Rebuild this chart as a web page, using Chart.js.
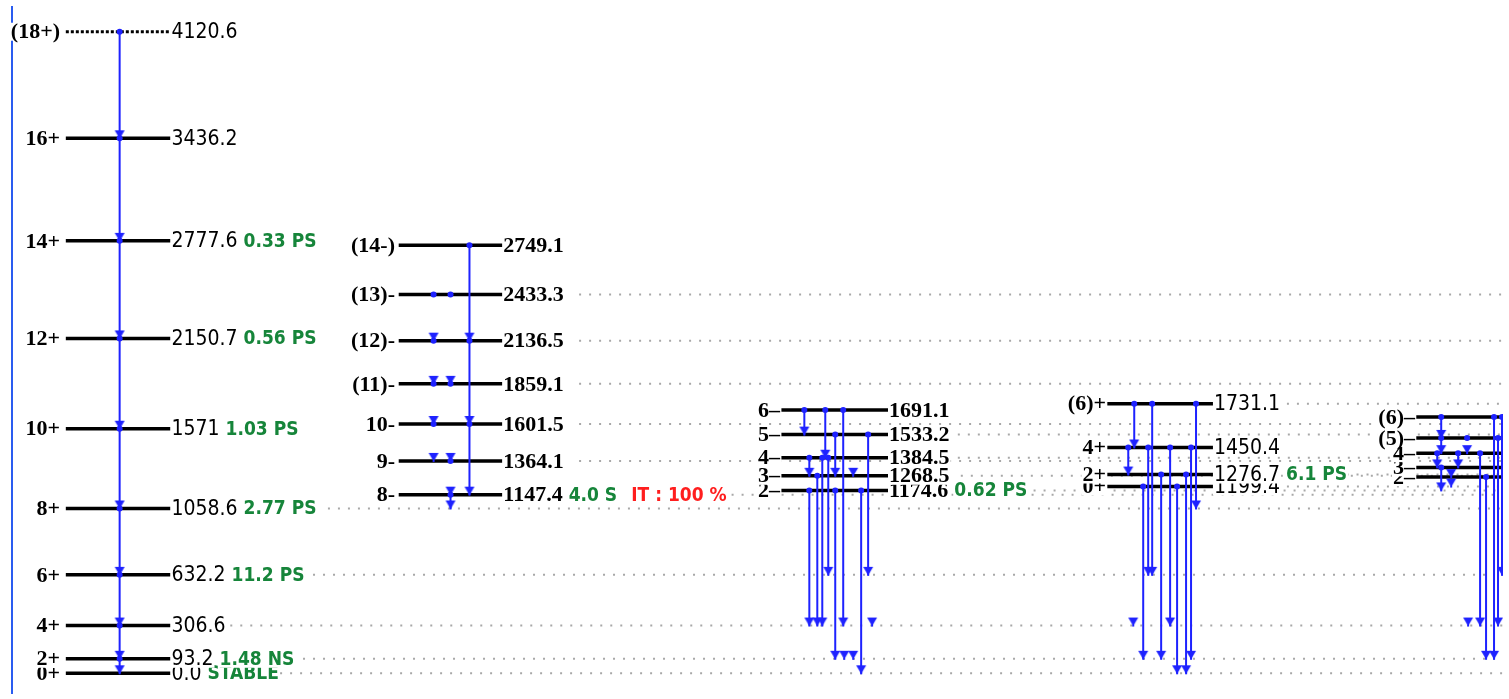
<!DOCTYPE html>
<html>
<head>
<meta charset="utf-8">
<script src="https://cdn.jsdelivr.net/npm/chart.js@4.4.1/dist/chart.umd.min.js"></script>
<style>
  html, body { margin: 0; padding: 0; background: #fff; overflow: hidden; }
  #wrap { width: 1509px; height: 699px; }
</style>
</head>
<body>
<div id="wrap"><canvas id="c"></canvas></div>
<script>
// level energies (keV), spins and half-lives, per band
const gsE = [0, 93.2, 306.6, 632.2, 1058.6, 1571, 2150.7, 2777.6, 3436.2, 4120.6];
const gsJ = ['0+', '2+', '4+', '6+', '8+', '10+', '12+', '14+', '16+', '(18+)'];
const gsT = ['STABLE', '1.48 NS', '', '11.2 PS', '2.77 PS', '1.03 PS', '0.56 PS', '0.33 PS', '', ''];

const k8E = [1147.4, 1364.1, 1601.5, 1859.1, 2136.5, 2433.3, 2749.1];
const k8J = ['8-', '9-', '10-', '(11)-', '(12)-', '(13)-', '(14-)'];
const k8T = ['4.0 S', '', '', '', '', '', ''];

const g2E = [1174.6, 1268.5, 1384.5, 1533.2, 1691.1];
const g2J = ['2–', '3–', '4–', '5–', '6–'];
const g2T = ['0.62 PS', '', '', '', ''];

const k0E = [1199.4, 1276.7, 1450.4, 1731.1];
const k0J = ['0+', '2+', '4+', '(6)+'];
const k0T = ['', '6.1 PS', '', ''];

const ocE = [1260.2, 1322.5, 1414, 1512, 1646];
const ocJ = ['2–', '3–', '4–', '(5)–', '(6)–'];
const ocT = ['', '', '', '', ''];

// gamma transitions [from, to] in keV
const gsTr = [[4120.6, 3436.2], [3436.2, 2777.6], [2777.6, 2150.7], [2150.7, 1571], [1571, 1058.6],
  [1058.6, 632.2], [632.2, 306.6], [306.6, 93.2], [93.2, 0]];
const k8Tr = [[2749.1, 2136.5], [2136.5, 1601.5], [1601.5, 1147.4], [2433.3, 2136.5], [2136.5, 1859.1],
  [1859.1, 1601.5], [1601.5, 1364.1], [2433.3, 1859.1], [1859.1, 1364.1], [1364.1, 1147.4], [1147.4, 1058.6]];
const g2Tr = [[1691.1, 1533.2], [1691.1, 1384.5], [1384.5, 632.2], [1384.5, 306.6], [1691.1, 306.6],
  [1533.2, 1268.5], [1174.6, 93.2], [1384.5, 1268.5], [1174.6, 306.6], [1268.5, 306.6], [1174.6, 0],
  [1533.2, 632.2], [1533.2, 306.6], [1268.5, 93.2], [1384.5, 93.2], [1384.5, 1268.5]];
const k0Tr = [[1731.1, 1450.4], [1450.4, 1276.7], [1276.7, 306.6], [1731.1, 632.2], [1450.4, 632.2],
  [1199.4, 93.2], [1276.7, 93.2], [1450.4, 306.6], [1199.4, 0], [1276.7, 0], [1450.4, 93.2], [1731.1, 1058.6]];
const ocTr = [[1646, 1512], [1512, 1414], [1414, 1322.5], [1322.5, 1174.6], [1322.5, 1199.4], [1512, 1414],
  [1414, 1322.5], [1322.5, 1260.2], [1414, 306.6], [1512, 306.6], [1260.2, 93.2], [1646, 93.2],
  [1512, 306.6], [1646, 632.2]];

// ---- layout (pixel columns) ----
const bands = [
  { E: gsE, J: gsJ, T: gsT, x1: 67, x2: 172, jx: 60, eFont: '21px "DejaVu Sans Condensed", "DejaVu Sans"',
    dot: [282, 305, 232, 305, 330, null, null, null, null, null], dashedTop: true,
    tr: gsTr, trX: gsTr.map(() => 121), trMode: gsTr.map(() => 'line') },
  { E: k8E, J: k8J, T: k8T, x1: 401, x2: 505, jx: 395, eFont: 'bold 22px "Liberation Serif"',
    dot: [735, 582, 582, 582, 582, 582, null],
    tr: k8Tr, trX: [472, 472, 472, 436, 436, 436, 436, 453, 453, 453, 453],
    trMode: ['line', 'line', 'line', 'marks', 'marks', 'marks', 'marks', 'marks', 'marks', 'marks', 'line'] },
  { E: g2E, J: g2J, T: g2T, x1: 785, x2: 892, jx: 780, eFont: 'bold 22px "Liberation Serif"',
    dot: [1038, 965, 962, 962, null],
    tr: g2Tr, trX: [808, 829, 832, 826, 847, 839, 839, 813, 813, 821, 865, 872, 876, 848, 857, 857],
    trMode: ['line', 'line', 'line', 'line', 'line', 'line', 'line', 'line', 'line', 'line', 'line', 'line',
      'head', 'head', 'head', 'head'] },
  { E: k0E, J: k0J, T: k0T, x1: 1112, x2: 1218, jx: 1106, eFont: '21px "DejaVu Sans Condensed", "DejaVu Sans"',
    dot: [1232, 1352, null, 1232],
    tr: k0Tr, trX: [1139, 1133, 1138, 1157, 1153, 1148, 1166, 1175, 1182, 1191, 1196, 1201],
    trMode: ['line', 'line', 'head', 'line', 'line', 'line', 'line', 'line', 'line', 'line', 'line', 'line'] },
  { E: ocE, J: ocJ, T: ocT, x1: 1422, x2: 1540, jx: 1415, eFont: '21px "DejaVu Sans Condensed", "DejaVu Sans"',
    dot: [null, null, null, null, null],
    tr: ocTr, trX: [1447, 1447, 1443, 1447, 1457, 1473, 1464, 1457, 1486, 1474, 1492, 1500, 1504, 1508],
    trMode: ['line', 'line', 'line', 'line', 'head', 'marks', 'line', 'head', 'line', 'head', 'line', 'line',
      'line', 'line'] }
];

const BLUE = '#1e22ff';
const GREEN = '#16853a';
const RED = '#ff1e1e';

// arrow head image: tip sits at the image centre, triangle above it
const arrow = document.createElement('canvas');
arrow.width = 12; arrow.height = 20;
(() => {
  const a = arrow.getContext('2d');
  a.fillStyle = BLUE;
  a.beginPath(); a.moveTo(1, 2); a.lineTo(11, 2); a.lineTo(6, 10.5); a.closePath(); a.fill();
  a.fillRect(5, 2, 2, 9);
})();

const datasets = [];
bands.forEach(b => {
  b.E.forEach((e, i) => {
    if (b.dot[i] != null) {
      datasets.push({ data: [{ x: b.dot[i], y: e }, { x: 1509, y: e }], showLine: true, order: 3,
        borderColor: '#a8a8a8', borderWidth: 2, borderDash: [2, 8], pointRadius: 0 });
    }
    const dashed = b.dashedTop && i === b.E.length - 1;
    datasets.push({ data: [{ x: b.x1, y: e }, { x: b.x2, y: e }], showLine: true, order: 2,
      borderColor: '#000', borderWidth: dashed ? 3 : 3.5, borderDash: dashed ? [3, 2] : [],
      borderCapStyle: 'butt', pointRadius: 0 });
  });
  b.tr.forEach((t, i) => {
    const mode = b.trMode[i];
    datasets.push({ data: [{ x: b.trX[i], y: t[0] }, { x: b.trX[i], y: t[1] }], showLine: mode === 'line', order: 1,
      borderColor: BLUE, borderWidth: 2, backgroundColor: BLUE, pointBorderWidth: 0,
      pointStyle: ctx => ctx.dataIndex === 0 ? 'circle' : arrow,
      pointRadius: ctx => ctx.dataIndex === 0 ? (mode === 'head' ? 0 : 3) : 6 });
  });
});

const labelPlugin = {
  id: 'levelLabels',
  afterDatasetsDraw(chart) {
    const { ctx, scales: { x, y } } = chart;
    ctx.save();
    ctx.textBaseline = 'middle';
    const put = (txt, px, py, font, color, align) => {
      ctx.font = font;
      const w = ctx.measureText(txt).width;
      const left = align === 'right' ? px - w : px;
      ctx.fillStyle = '#fff';
      ctx.fillRect(left - 1, py - 9, w + 2, 18);
      ctx.fillStyle = color;
      ctx.textAlign = 'left';
      ctx.fillText(txt, left, py + 1);
      return left + w;
    };
    bands.forEach(b => {
      b.E.forEach((e, i) => {
        const py = y.getPixelForValue(e);
        put(b.J[i], b.jx, py, 'bold 22px "Liberation Serif"', '#000', 'right');
        const lbl = e === 0 ? '0.0' : String(e);
        let end = put(lbl, x.getPixelForValue(b.x2) + 1, py, b.eFont, '#000', 'left');
        if (b.T[i]) {
          end = put(b.T[i], end + 6, py, 'bold 19px "DejaVu Sans Condensed", "DejaVu Sans"', GREEN, 'left');
        }
        if (b.J === k8J && i === 0) {
          put('IT : 100 %', end + 14, py, 'bold 19px "DejaVu Sans Condensed", "DejaVu Sans"', RED, 'left');
        }
      });
    });
    ctx.restore();
  }
};

new Chart(document.getElementById('c'), {
  type: 'scatter',
  data: { datasets },
  options: {
    responsive: true,
    maintainAspectRatio: false,
    animation: false,
    layout: { padding: { left: 12, top: 7, right: 0, bottom: 0 } },
    plugins: { legend: { display: false }, tooltip: { enabled: false } },
    scales: {
      x: { type: 'linear', min: 13, max: 1509, display: false },
      y: {
        type: 'linear', min: -126.6, max: 4279.4,
        ticks: { display: false },
        grid: { display: false, drawTicks: false },
        border: { display: true, color: '#2a5cf0', width: 2 }
      }
    }
  },
  plugins: [labelPlugin]
});
</script>
</body>
</html>
